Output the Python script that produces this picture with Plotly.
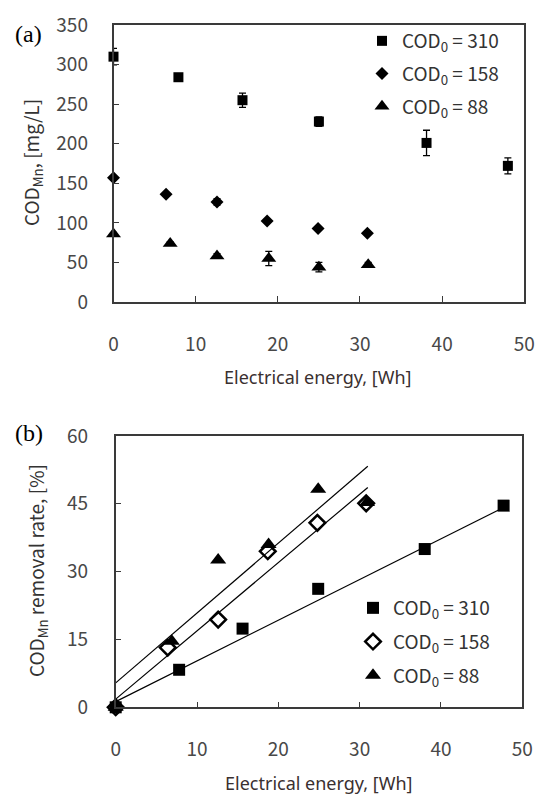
import plotly.graph_objects as go

# ---------------- data ----------------
series_names = ["COD<sub>0</sub> = 310", "COD<sub>0</sub> = 158", "COD<sub>0</sub> = 88"]

# panel (a): COD_Mn concentration vs electrical energy
a_x_310 = [0, 7.9, 15.7, 25.0, 38.1, 48.0]
a_y_310 = [310, 284, 255, 228, 201, 172]
a_e_310 = [10.5, 2, 9, 6, 16, 10]

a_x_158 = [0, 6.4, 12.6, 18.7, 24.9, 30.9]
a_y_158 = [157, 136, 126.5, 102.5, 93, 87]
a_e_158 = [2, 2, 4, 2, 2, 2]

a_x_88 = [0, 6.9, 12.6, 18.9, 25.0, 31.0]
a_y_88 = [86, 74, 58, 55, 44, 47]
a_e_88 = [2, 2, 3, 9, 6, 3]

# panel (b): removal rate vs electrical energy
b_x_310 = [0, 7.8, 15.6, 24.9, 38.0, 47.7]
b_y_310 = [0, 8.3, 17.4, 26.2, 35.0, 44.6]

b_x_158 = [0, 6.4, 12.6, 18.7, 24.8, 30.8]
b_y_158 = [0, 13.2, 19.4, 34.5, 40.8, 45.1]

b_x_88 = [0, 6.9, 12.6, 18.8, 24.9, 30.9]
b_y_88 = [0, 14.6, 32.6, 36.0, 48.2, 45.3]

# linear trend lines
fit_slope = [0.90, 1.51, 1.545]
fit_intercept = [1.25, 1.8, 5.4]
fit_x_end = [47.7, 31.0, 31.0]

x_ticks = [0, 10, 20, 30, 40, 50]
a_y_ticks = [0, 50, 100, 150, 200, 250, 300, 350]
b_y_ticks = [0, 15, 30, 45, 60]

# ---------------- style ----------------
W, H = 538, 794
AX = "#3a3a3a"
TICKFONT = dict(family="Noto Sans CJK KR, Noto Sans, sans-serif", size=19, color="#484848")
LABFONT = dict(family="Noto Sans CJK KR, Noto Sans, sans-serif", size=19, color="#333333")
TITFONT = dict(family="Noto Sans, Open Sans, sans-serif", size=18, color="#3a3030")

def px_x(p):
    return p / W

def px_y(p):
    return 1 - p / H

fig = go.Figure()

# panel (a)
for xs, ys, es, name, sym, sz in [
    (a_x_310, a_y_310, a_e_310, series_names[0], "square", 10),
    (a_x_158, a_y_158, a_e_158, series_names[1], "diamond", 10),
    (a_x_88, a_y_88, a_e_88, series_names[2], "triangle-up", 13),
]:
    fig.add_trace(go.Scatter(
        x=xs, y=ys, mode="markers", name=name,
        marker=dict(symbol=sym, size=sz, color="black"),
        error_y=dict(type="data", array=es, visible=True, color="black",
                     thickness=1.3, width=3.5),
        xaxis="x", yaxis="y", legend="legend", legendgroup=name + "a",
        cliponaxis=False,
    ))

# panel (b)
for xs, ys, name, sym, sz, lw in [
    (b_x_310, b_y_310, series_names[0], "square", 12, 0),
    (b_x_158, b_y_158, series_names[1], "diamond-open", 12, 2.5),
    (b_x_88, b_y_88, series_names[2], "triangle-up", 14, 0),
]:
    fig.add_trace(go.Scatter(
        x=xs, y=ys, mode="markers", name=name,
        marker=dict(symbol=sym, size=sz, color="black", line=dict(width=lw, color="black")),
        xaxis="x2", yaxis="y2", legend="legend2", legendgroup=name + "b",
        cliponaxis=False,
    ))

for s, b0, xe in zip(fit_slope, fit_intercept, fit_x_end):
    fig.add_trace(go.Scatter(
        x=[0, xe], y=[b0, b0 + s * xe], mode="lines",
        line=dict(color="black", width=1.2), showlegend=False,
        xaxis="x2", yaxis="y2", hoverinfo="skip",
    ))

axis_common = dict(
    showgrid=False, zeroline=False, showline=True, mirror=True, automargin=False,
    linecolor=AX, linewidth=1.5, ticks="inside", ticklen=6, tickwidth=1.2,
    tickcolor=AX, tickfont=TICKFONT,
)

fig.update_layout(
    width=W, height=H,
    margin=dict(l=0, r=0, t=0, b=0, autoexpand=False),
    paper_bgcolor="white", plot_bgcolor="white",
    showlegend=True,
    xaxis=dict(domain=[px_x(113.5), px_x(524.3)], range=[0, 50], tickvals=x_ticks,
               anchor="y", ticklabelstandoff=24, **axis_common),
    yaxis=dict(domain=[px_y(302), px_y(25)], range=[0, 350], tickvals=a_y_ticks,
               anchor="x", ticklabelstandoff=20, **axis_common),
    xaxis2=dict(domain=[px_x(115.7), px_x(522.3)], range=[0, 50], tickvals=x_ticks,
                anchor="y2", ticklabelstandoff=24, **axis_common),
    yaxis2=dict(domain=[px_y(707.3), px_y(436)], range=[0, 60], tickvals=b_y_ticks,
                anchor="x2", ticklabelstandoff=22, **axis_common),
    legend=dict(x=px_x(362), y=px_y(22), xanchor="left", yanchor="top",
                bgcolor="rgba(0,0,0,0)", font=LABFONT, tracegroupgap=5,
                itemwidth=30, traceorder="grouped"),
    legend2=dict(x=px_x(353), y=px_y(589), xanchor="left", yanchor="top",
                 bgcolor="rgba(0,0,0,0)", font=LABFONT, tracegroupgap=6,
                 itemwidth=30, traceorder="grouped"),
    annotations=[
        dict(text="(a)", x=px_x(28), y=px_y(34), xref="paper", yref="paper",
             xanchor="center", yanchor="middle",
             showarrow=False, font=dict(family="Liberation Serif", size=24, color="black")),
        dict(text="(b)", x=px_x(29), y=px_y(433), xref="paper", yref="paper",
             xanchor="center", yanchor="middle",
             showarrow=False, font=dict(family="Liberation Serif", size=24, color="black")),
        dict(text="COD<sub>Mn</sub>, [mg/L]", x=px_x(32), y=px_y(163), xref="paper", yref="paper",
             xanchor="center", yanchor="middle",
             textangle=-90, showarrow=False, font=LABFONT),
        dict(text="COD<sub>Mn</sub> removal rate, [%]", x=px_x(37), y=px_y(571), xref="paper",
             yref="paper", xanchor="center", yanchor="middle",
             textangle=-90, showarrow=False, font=LABFONT),
        dict(text="Electrical energy, [Wh]", x=px_x(318), y=px_y(377), xref="paper",
             yref="paper", xanchor="center", yanchor="middle", showarrow=False, font=TITFONT),
        dict(text="Electrical energy, [Wh]", x=px_x(319), y=px_y(783), xref="paper",
             yref="paper", xanchor="center", yanchor="middle", showarrow=False, font=TITFONT),
    ],
)

fig.write_html(
    "out.html",
    config={"displayModeBar": False},
    post_script="document.body.style.margin='0px';document.body.style.overflow='hidden';",
)
